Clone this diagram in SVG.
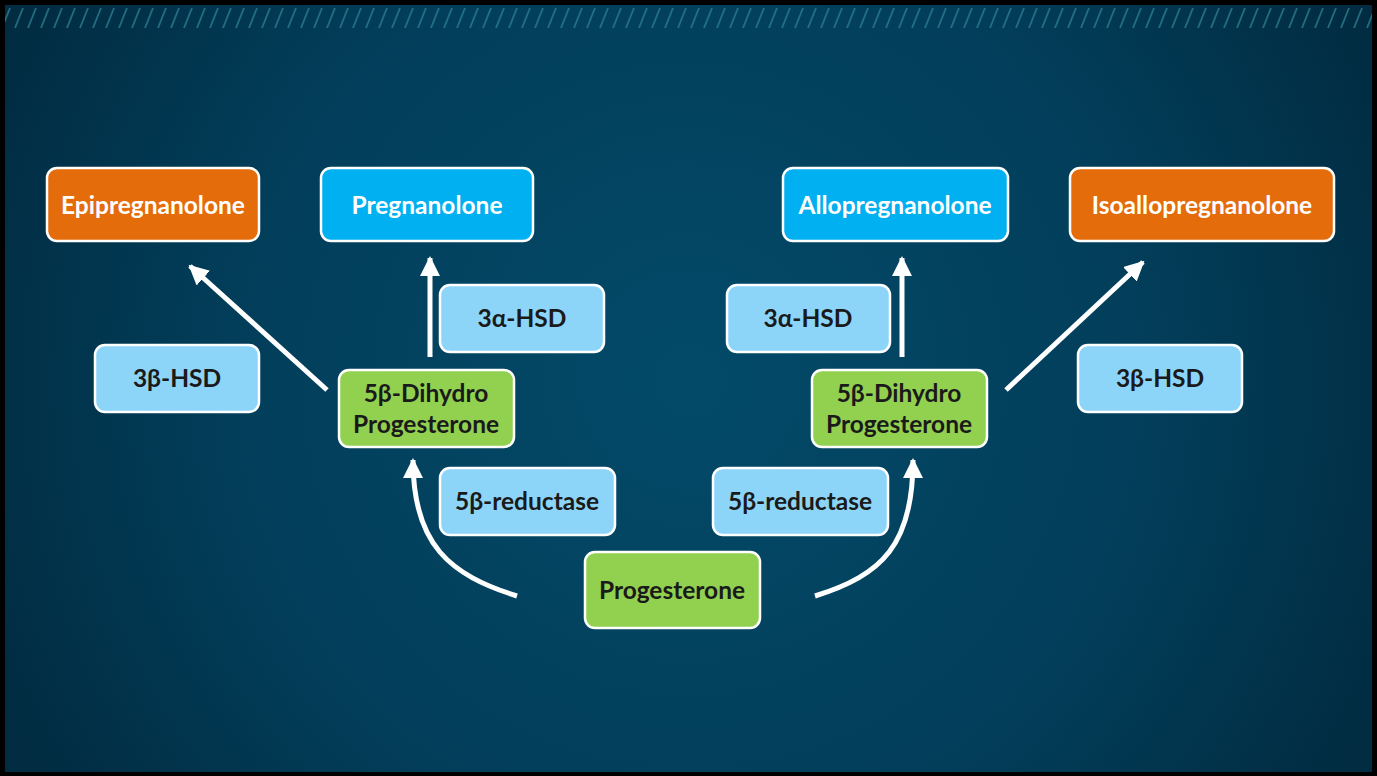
<svg xmlns="http://www.w3.org/2000/svg" width="1377" height="776" viewBox="0 0 1377 776">
<defs>
<radialGradient id="bg" cx="690" cy="380" r="760" gradientUnits="userSpaceOnUse">
<stop offset="0" stop-color="#034A69"/>
<stop offset="0.6" stop-color="#023E5A"/>
<stop offset="1" stop-color="#012C42"/>
</radialGradient>
<pattern id="stripes" x="0" y="8" width="13" height="20" patternUnits="userSpaceOnUse">
<line x1="2" y1="20" x2="10" y2="0" stroke="#2A7C90" stroke-width="1.8" stroke-opacity="0.8"/>
</pattern>
<marker id="ah" viewBox="0 0 10 10" refX="9" refY="5" markerWidth="4" markerHeight="4" orient="auto" markerUnits="strokeWidth">
<path d="M0,0 L10,5 L0,10 z" fill="#FFFFFF"/>
</marker>
<style>
.box{stroke:#FFFFFF;stroke-width:2.5}
.orange{fill:#E46C0A}
.blue{fill:#00B0F0}
.lblue{fill:#8DD5F8}
.green{fill:#92D050}
.tw{font-family:Lato,"Open Sans","Liberation Sans",sans-serif;font-weight:bold;font-size:24.5px;fill:#FFFFFF;text-anchor:middle}
.tk{font-family:Lato,"Open Sans","Liberation Sans",sans-serif;font-weight:bold;font-size:24.5px;fill:#1A1A1A;text-anchor:middle}
.conn{fill:none;stroke:#FFFFFF;stroke-width:5;marker-end:url(#ah)}
</style>
</defs>
<rect x="0" y="0" width="1377" height="776" fill="#000000"/>
<rect x="5" y="5" width="1367" height="767" fill="url(#bg)"/>
<rect x="5" y="8" width="1367" height="20" fill="url(#stripes)"/>

<g id="connectors">
<path class="conn" d="M327,390 L190,266"/>
<path class="conn" d="M430,357 L430,258"/>
<path class="conn" d="M517,596 C450,575 413,545 413,460"/>
<path class="conn" d="M815,596 C882,575 913,545 913,460"/>
<path class="conn" d="M902,357 L902,258"/>
<path class="conn" d="M1006,390 L1143,262"/>
</g>

<g id="epipregnanolone"><rect class="box orange" x="47" y="168" width="212" height="73" rx="10"/><text class="tw" x="153" y="214">Epipregnanolone</text></g>
<g id="pregnanolone"><rect class="box blue" x="321" y="168" width="212" height="73" rx="10"/><text class="tw" x="427" y="214">Pregnanolone</text></g>
<g id="allopregnanolone"><rect class="box blue" x="783" y="168" width="225" height="73" rx="10"/><text class="tw" x="895" y="214">Allopregnanolone</text></g>
<g id="isoallopregnanolone"><rect class="box orange" x="1070" y="168" width="264" height="73" rx="10"/><text class="tw" x="1202" y="214">Isoallopregnanolone</text></g>

<g id="hsd3b-left"><rect class="box lblue" x="95" y="345" width="164" height="67" rx="10"/><text class="tk" x="177" y="387">3β-HSD</text></g>
<g id="hsd3a-left"><rect class="box lblue" x="440" y="285" width="164" height="67" rx="10"/><text class="tk" x="522" y="327">3α-HSD</text></g>
<g id="dihydro-left"><rect class="box green" x="339" y="370" width="175" height="77" rx="10"/><text class="tk" x="426" y="402">5β-Dihydro</text><text class="tk" x="426" y="433">Progesterone</text></g>
<g id="reductase-left"><rect class="box lblue" x="440" y="468" width="175" height="67" rx="10"/><text class="tk" x="527" y="510">5β-reductase</text></g>
<g id="progesterone"><rect class="box green" x="585" y="552" width="175" height="76" rx="10"/><text class="tk" x="672" y="599">Progesterone</text></g>
<g id="reductase-right"><rect class="box lblue" x="713" y="468" width="175" height="67" rx="10"/><text class="tk" x="800" y="510">5β-reductase</text></g>
<g id="dihydro-right"><rect class="box green" x="812" y="370" width="175" height="77" rx="10"/><text class="tk" x="899" y="402">5β-Dihydro</text><text class="tk" x="899" y="433">Progesterone</text></g>
<g id="hsd3a-right"><rect class="box lblue" x="727" y="285" width="163" height="67" rx="10"/><text class="tk" x="808" y="327">3α-HSD</text></g>
<g id="hsd3b-right"><rect class="box lblue" x="1078" y="345" width="164" height="67" rx="10"/><text class="tk" x="1160" y="387">3β-HSD</text></g>
</svg>
